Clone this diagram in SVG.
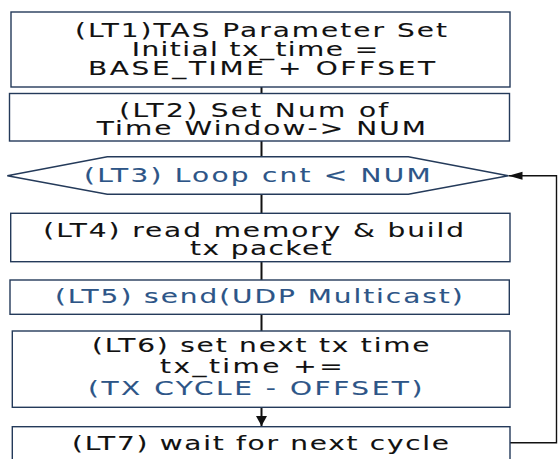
<svg xmlns="http://www.w3.org/2000/svg" width="558" height="459" viewBox="0 0 558 459">
<defs>
<style>
.box{fill:#fff;stroke:#243a5a;stroke-width:1.4}
.t{font-family:"DejaVu Sans","Verdana",sans-serif;font-size:20px;fill:#111;stroke:#111;stroke-width:0.1}
.b{fill:#2d5587;stroke:#2d5587}
.c{fill:none;stroke:#111;stroke-width:2}
.lp{fill:none;stroke:#111;stroke-width:1.4}
</style>
<marker id="ah" markerUnits="userSpaceOnUse" markerWidth="16" markerHeight="10" refX="14" refY="5" orient="auto">
<path d="M0,1 L14,5 L0,9 Z" fill="#111"/>
</marker>
<marker id="ad" markerUnits="userSpaceOnUse" markerWidth="12" markerHeight="12" refX="10" refY="6" orient="auto">
<path d="M0,0.5 L10,6 L0,11.5 Z" fill="#111"/>
</marker>
</defs>
<rect width="558" height="459" fill="#fff"/>
<g id="connectors">
<line class="c" x1="261.5" y1="87" x2="261.5" y2="93.5"/>
<line class="c" x1="261.5" y1="141" x2="261.5" y2="156.7"/>
<line class="c" x1="261.5" y1="194.3" x2="261.5" y2="213.3"/>
<line class="c" x1="261.5" y1="261.7" x2="261.5" y2="280"/>
<line class="c" x1="261.5" y1="314.3" x2="261.5" y2="331"/>
<line class="c" x1="261.5" y1="407.3" x2="261.5" y2="426" marker-end="url(#ad)"/>
<polyline class="lp" points="510,442.7 556.5,442.7 556.5,175.7 508.5,175.7" marker-end="url(#ah)"/>
</g>
<g id="LT1">
<rect class="box" x="11" y="12" width="499" height="75"/>
<g transform="scale(1.4 1)">
<text class="t"><tspan x="53.57" y="36.7" textLength="265.7" lengthAdjust="spacing">(LT1)TAS Parameter Set</tspan><tspan x="94.07" y="56" textLength="176.1" lengthAdjust="spacing">Initial tx_time =</tspan><tspan x="62.86" y="75" textLength="247.9" lengthAdjust="spacing">BASE_TIME + OFFSET</tspan></text>
</g>
</g>
<g id="LT2">
<rect class="box" x="9.5" y="93.5" width="500" height="47.5"/>
<g transform="scale(1.4 1)">
<text class="t"><tspan x="85.21" y="116.7" textLength="192.1" lengthAdjust="spacing">(LT2) Set Num of</tspan><tspan x="69.07" y="135" textLength="235.2" lengthAdjust="spacing">Time Window-&gt; NUM</tspan></text>
</g>
</g>
<g id="LT3">
<polygon class="box" points="7.3,175.7 107.3,156.7 408.3,156.7 508.3,175.7 408.3,194.3 107.3,194.3"/>
<g transform="scale(1.4 1)">
<text class="t b" x="60" y="182.3" textLength="247.6" lengthAdjust="spacing">(LT3) Loop cnt &lt; NUM</text>
</g>
</g>
<g id="LT4">
<rect class="box" x="10.7" y="213.3" width="499.3" height="48.4"/>
<g transform="scale(1.4 1)">
<text class="t"><tspan x="30.93" y="236.7" textLength="300.5" lengthAdjust="spacing">(LT4) read memory &amp; build</tspan><tspan x="135.7" y="255" textLength="101.2" lengthAdjust="spacing">tx packet</tspan></text>
</g>
</g>
<g id="LT5">
<rect class="box" x="10" y="280" width="499.3" height="34.3"/>
<g transform="scale(1.4 1)">
<text class="t b" x="39.29" y="302.7" textLength="291.2" lengthAdjust="spacing">(LT5) send(UDP Multicast)</text>
</g>
</g>
<g id="LT6">
<rect class="box" x="12.3" y="331" width="497.7" height="76.3"/>
<g transform="scale(1.4 1)">
<text class="t"><tspan x="65.71" y="351.7" textLength="241.1" lengthAdjust="spacing">(LT6) set next tx time</tspan><tspan x="114.3" y="373.3" textLength="130.5" lengthAdjust="spacing">tx_time +=</tspan><tspan class="b" x="62.86" y="395" textLength="238.9" lengthAdjust="spacing">(TX CYCLE - OFFSET)</tspan></text>
</g>
</g>
<g id="LT7">
<rect class="box" x="12.3" y="426.7" width="497.7" height="45"/>
<g transform="scale(1.4 1)">
<text class="t" x="51.43" y="450" textLength="269.3" lengthAdjust="spacing">(LT7) wait for next cycle</text>
</g>
</g>
</svg>
